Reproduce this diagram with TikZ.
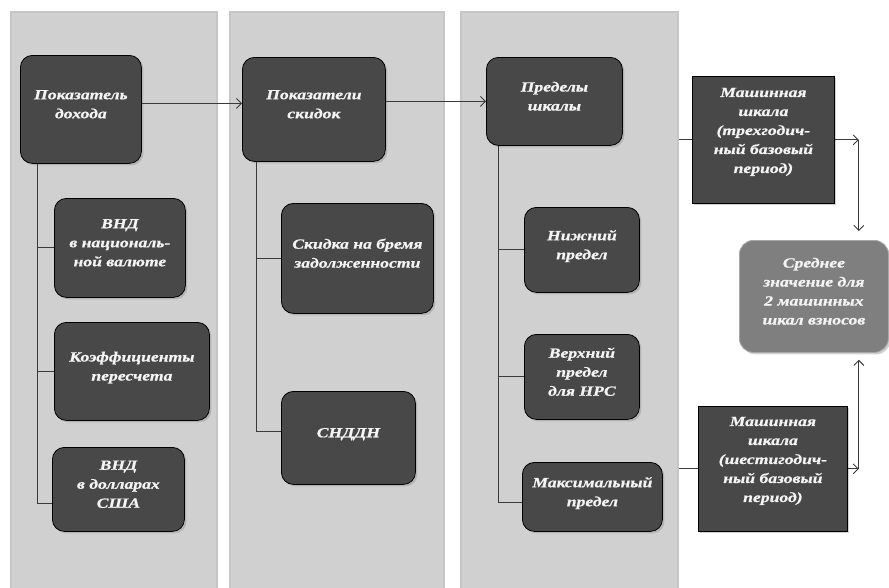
\documentclass[tikz,border=0pt]{standalone}
\usepackage{fontspec}
\setmainfont{Liberation Serif}[FakeStretch=1.26, BoldItalicFeatures={FakeBold=0.8}]
\usetikzlibrary{arrows.meta,shadows}
\definecolor{panelc}{HTML}{D0D0D0}
\definecolor{paneld}{HTML}{C6C6C6}
\definecolor{boxc}{HTML}{484848}
\definecolor{avgc}{HTML}{7F7F7F}
\definecolor{avgd}{HTML}{A8A8A8}
\definecolor{linec}{HTML}{3A3A3A}
\definecolor{textc}{HTML}{F4F4F4}
\tikzset{
  panel/.style={fill=panelc, draw=paneld, line width=2pt, anchor=north west, inner sep=0pt},
  bx/.style={draw=black, line width=0.8pt, fill=boxc, rounded corners=12pt, anchor=north west,
    inner sep=2pt, align=center, text=textc, text depth=10.5pt,
    font=\bfseries\itshape\fontsize{14}{19}\selectfont,
    drop shadow={shadow xshift=2pt, shadow yshift=-2pt, opacity=0.35}},
  sq/.style={bx, rounded corners=0pt, text depth=19pt},
  conn/.style={draw=linec, line width=0.9pt},
  arr/.style={conn, -{Straight Barb[length=5pt,width=10pt]}}
}
\begin{document}
\begin{tikzpicture}[x=1pt,y=-1pt]
\clip (0,0) rectangle (889,587);
\fill[white] (0,0) rectangle (889,587);
% panels
\node[panel, minimum width=206pt, minimum height=600pt] (p1) at (10,11) {};
\node[panel, minimum width=214pt, minimum height=600pt] (p2) at (229,11) {};
\node[panel, minimum width=217pt, minimum height=600pt] (p3) at (460,11) {};
% boxes
\path
 (20,55)   node[bx, minimum width=121pt, minimum height=108pt] (pd) {Показатель\\дохода}
 (54,198)  node[bx, minimum width=131pt, minimum height=99pt]  (v1) {ВНД\\в националь-\\ной валюте}
 (54,322)  node[bx, minimum width=155pt, minimum height=98pt]  (kf) {Коэффициенты\\пересчета}
 (52,447)  node[bx, minimum width=132pt, minimum height=84pt]  (v2) {ВНД\\в долларах\\США}
 (242,57)  node[bx, minimum width=143pt, minimum height=104pt] (ps) {Показатели\\скидок}
 (281,203) node[bx, minimum width=152pt, minimum height=110pt] (sk) {Скидка на бремя\\задолженности}
 (281,391) node[bx, minimum width=134pt, minimum height=93pt]  (sn) {СНДДН}
 (486,57)  node[bx, minimum width=136pt, minimum height=88pt]  (pr) {Пределы\\шкалы}
 (524,207) node[bx, minimum width=115pt, minimum height=85pt]  (nz) {Нижний\\предел}
 (524,334) node[bx, minimum width=115pt, minimum height=85pt]  (vp) {Верхний\\предел\\для НРС}
 (522,462) node[bx, minimum width=140pt, minimum height=69pt]  (mx) {Максимальный\\предел}
 (692,76)  node[sq, minimum width=142pt, minimum height=127pt] (m1) {Машинная\\шкала\\(трехгодич-\\ный базовый\\период)}
 (698,406) node[sq, minimum width=149pt, minimum height=125pt] (m2) {Машинная\\шкала\\(шестигодич-\\ный базовый\\период)}
 (739,240) node[bx, fill=avgc, draw=avgd, rounded corners=14pt, minimum width=149pt, minimum height=112pt] (av) {Среднее\\значение для\\2 машинных\\шкал взносов};
% connectors
\coordinate (t1) at ([xshift=17pt]pd.south west);
\coordinate (t2) at ([xshift=14pt]ps.south west);
\coordinate (t3) at ([xshift=12pt]pr.south west);
\coordinate (c1) at ([xshift=24pt]m1.east);
\coordinate (c2) at ([xshift=11pt]m2.east);
\draw[conn] (t1) |- (v1.west);
\draw[conn] (t1) |- (kf.west);
\draw[conn] (t1) |- ([yshift=-14pt]v2.west);
\draw[conn] (t2) |- (sk.west);
\draw[conn] (t2) |- ([yshift=6pt]sn.west);
\draw[conn] (t3) |- (nz.west);
\draw[conn] (t3) |- (vp.west);
\draw[conn] (t3) |- ([yshift=-6pt]mx.west);
\draw[arr] ([yshift=6pt]pd.east) -- ([yshift=6pt]pd.east -| ps.west);
\draw[arr] (ps.east |- pr.west) -- (pr.west);
\draw[conn] (p3.east |- m1.west) -- (m1.west);
\draw[conn] (p3.east |- m2.west) -- (m2.west);
\draw[arr] (m1.east) -- (c1);
\draw[arr, shorten >=9pt] (c1) -- (c1 |- av.north);
\draw[arr] (m2.east) -- (c2);
\draw[arr, shorten >=7pt] (c2) -- (c2 |- av.south);
\end{tikzpicture}
\end{document}
